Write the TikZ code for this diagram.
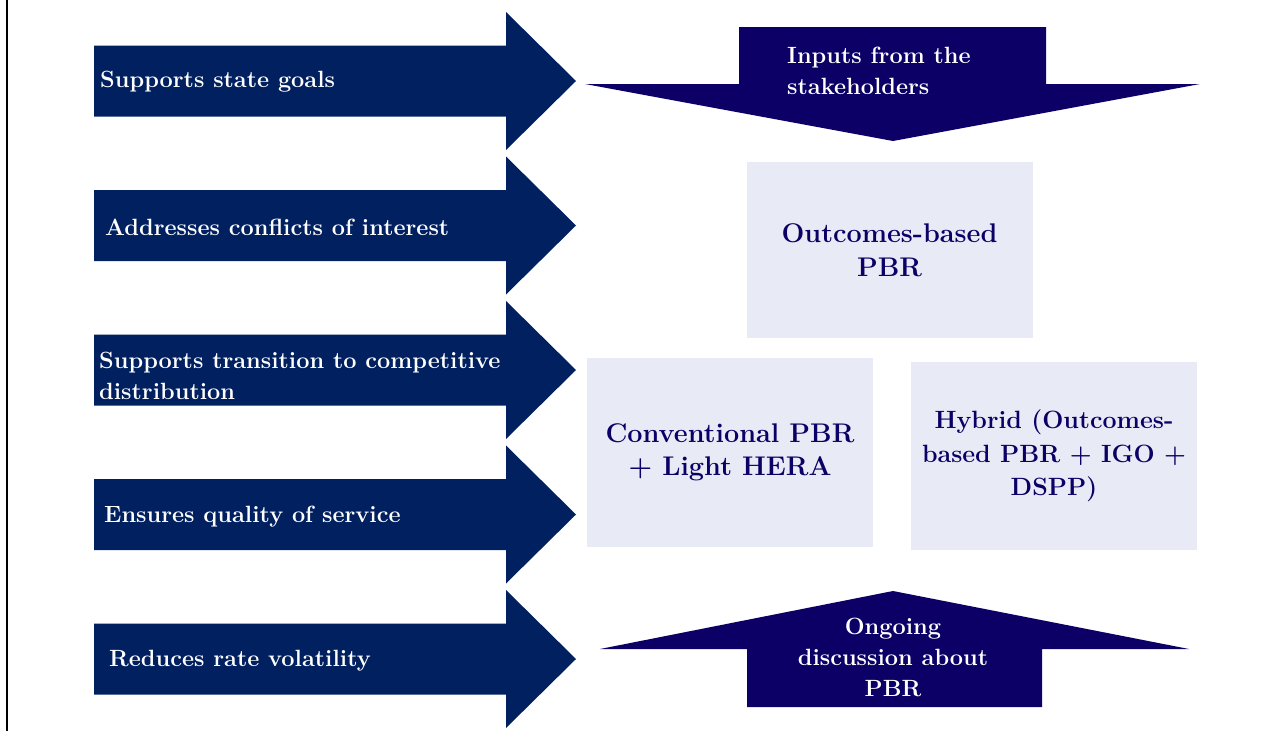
\documentclass[tikz,border=0pt]{standalone}
\usepackage{tikz}

\definecolor{stateblue}{HTML}{002060}
\definecolor{pbrnavy}{HTML}{0C0066}
\definecolor{boxgray}{HTML}{E8EBF5}

\begin{document}
\begin{tikzpicture}[
    x=1pt, y=-1pt,
    every node/.style={font=\bfseries\fontsize{23.5}{31}\selectfont},
    goal/.style={text=white, align=left, anchor=west, inner sep=0pt},
    goalarrow/.style={fill=stateblue},
    flowarrow/.style={fill=pbrnavy},
    flowtext/.style={text=white, inner sep=0pt},
    pbrbox/.style={fill=boxgray, text=pbrnavy, align=center, inner sep=0pt,
        minimum width=286pt, font=\bfseries\fontsize{27}{33.5}\selectfont}
]
\useasboundingbox (0,0) rectangle (1283,731);
\draw[line width=2pt] (7,0) -- (7,731);

% goal arrows on the left
\fill[goalarrow] (94,81) ++(0,-35.5) -- ++(412,0) -- ++(0,-33.5) -- ++(70,69) -- ++(-70,69) -- ++(0,-33.5) -- ++(-412,0) -- cycle;
\fill[goalarrow] (94,225.5) ++(0,-35.5) -- ++(412,0) -- ++(0,-33.5) -- ++(70,69) -- ++(-70,69) -- ++(0,-33.5) -- ++(-412,0) -- cycle;
\fill[goalarrow] (94,370) ++(0,-35.5) -- ++(412,0) -- ++(0,-33.5) -- ++(70,69) -- ++(-70,69) -- ++(0,-33.5) -- ++(-412,0) -- cycle;
\fill[goalarrow] (94,514.5) ++(0,-35.5) -- ++(412,0) -- ++(0,-33.5) -- ++(70,69) -- ++(-70,69) -- ++(0,-33.5) -- ++(-412,0) -- cycle;
\fill[goalarrow] (94,659) ++(0,-35.5) -- ++(412,0) -- ++(0,-33.5) -- ++(70,69) -- ++(-70,69) -- ++(0,-33.5) -- ++(-412,0) -- cycle;

\node[goal] (goals) at (100,82) {Supports state goals};
\node[goal] (conflicts) at (105,227) {Addresses conflicts of interest};
\node[goal] (transition) at (99,376) {Supports transition to competitive\\distribution};
\node[goal] (quality) at (104,517) {Ensures quality of service};
\node[goal] (volatility) at (109,661) {Reduces rate volatility};

% inputs (down) and discussion (up)
\fill[flowarrow] (739,84) -- (739,27) -- (1046,27) -- (1046,84) -- (1200,84) -- (893,141) -- (585,84) -- cycle;
\fill[flowarrow] (747,649) -- (600,649) -- (893,591) -- (1189,649) -- (1042,649) -- (1042,707) -- (747,707) -- cycle;

\node[flowtext, align=left, anchor=west] (inputs) at (787,71) {Inputs from the\\stakeholders};
\node[flowtext, align=center] (discussion) at (893,657) {Ongoing\\discussion about\\PBR};

% PBR options
\node[pbrbox, minimum height=176pt] (outcomes) at (889.5,250) {Outcomes-based\\PBR};
\node[pbrbox, minimum height=189pt] (conventional) at (730,452.5) {Conventional PBR\\+ Light HERA};
\node[pbrbox, minimum height=188pt, font=\bfseries\fontsize{25}{33.5}\selectfont] (hybrid) at (1054,456) {Hybrid (Outcomes-\\based PBR + IGO +\\DSPP)};
\end{tikzpicture}
\end{document}
